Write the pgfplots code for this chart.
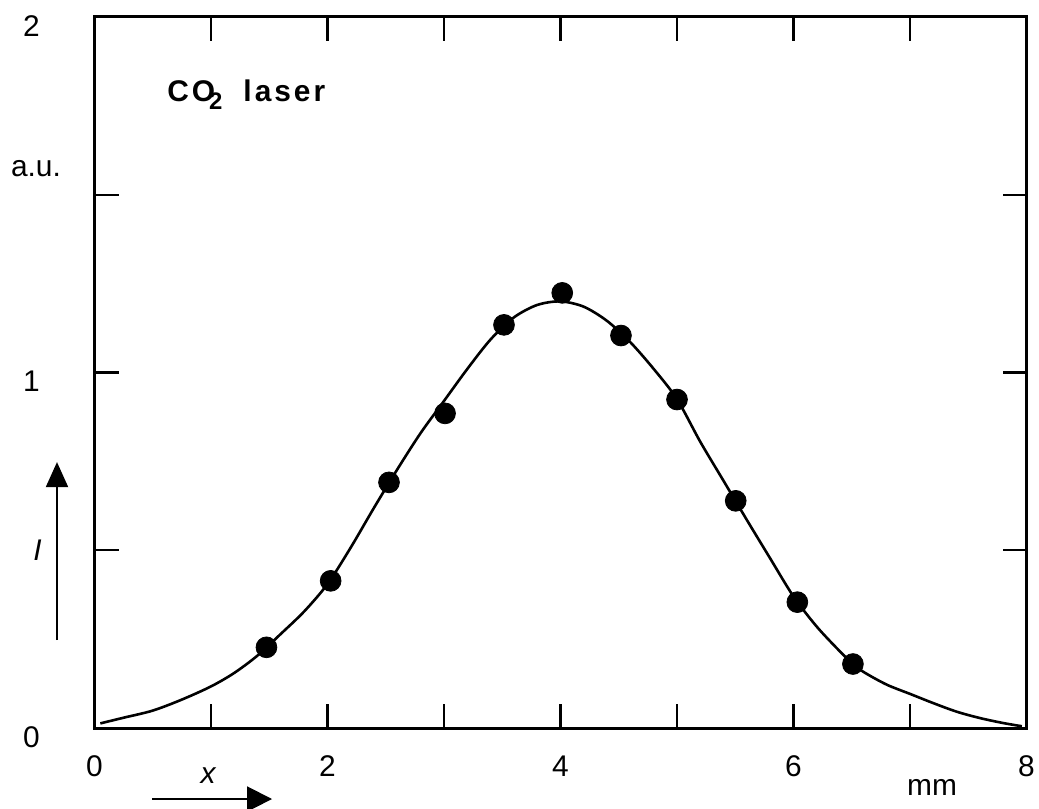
\documentclass[border=0pt]{standalone}
\usepackage{pgfplots}
\pgfplotsset{compat=1.18}
\usepackage{pgfplotstable}
\usepackage{fontspec}
\setmainfont{Liberation Sans}
\newfontfamily\spacedfont[LetterSpace=10]{Liberation Sans}
\usetikzlibrary{arrows.meta}

% fitted intensity profile
\pgfplotstableread{
x     y
0.05  0.013
0.25  0.029
0.50  0.049
0.75  0.080
1.00  0.117
1.20  0.155
1.40  0.204
1.60  0.265
1.80  0.328
2.00  0.405
2.20  0.508
2.40  0.620
2.60  0.728
2.80  0.830
3.00  0.920
3.20  1.010
3.40  1.093
3.60  1.155
3.80  1.190
4.00  1.200
4.20  1.185
4.40  1.145
4.60  1.085
4.80  1.010
5.00  0.925
5.20  0.805
5.40  0.695
5.60  0.585
5.80  0.477
6.00  0.370
6.20  0.285
6.40  0.215
6.50  0.184
6.60  0.158
6.80  0.122
7.00  0.096
7.20  0.070
7.40  0.046
7.60  0.028
7.80  0.014
7.96  0.005
}\fitcurve

% measured intensities
\pgfplotstableread{
x      y
1.476  0.227
2.027  0.414
2.528  0.691
3.009  0.885
3.515  1.134
4.015  1.224
4.519  1.104
5.000  0.924
5.504  0.639
6.033  0.354
6.510  0.180
}\measured

\begin{document}
\begin{tikzpicture}
\begin{axis}[
  scale only axis,
  width=466bp, height=355.5bp,
  xmin=0, xmax=8, ymin=0, ymax=2,
  xtick={0,1,...,8}, xticklabels={0,,2,,4,,6,,8},
  ytick={0,0.5,...,2}, yticklabels={0,,1,,2},
  tick align=inside,
  major tick length=12bp,
  axis line style={line width=1.5bp},
  every tick/.style={black, line width=1.2bp},
  font=\fontsize{15}{18}\selectfont,
  xticklabel style={anchor=center, yshift=-19bp},
  yticklabel style={anchor=center, xshift=-31.5bp, yshift=-4.5bp},
  clip=false,
]
\addplot[black, line width=1.3bp, smooth, no marks] table {\fitcurve};
\addplot[only marks, mark=*, mark size=5.2bp,
  mark options={draw=black, fill=black}] table {\measured};

\node[anchor=base west, inner sep=0pt,
  font=\spacedfont\bfseries\fontsize{15}{18}\selectfont]
  at (axis cs:0.622,1.761)
  {CO\kern-3bp\raisebox{-4bp}{\fontsize{12}{12}\selectfont 2}\hspace{10.5bp}laser};

\node[anchor=base, xshift=-29.25bp] at (axis cs:0,1.55) {a.u.};
\node[anchor=base, xshift=-28.5bp] at (axis cs:0,0.4726) {\itshape I};
\draw[line width=1bp, -{Triangle[length=12.5bp,width=11bp]}]
  ([xshift=-18.75bp]axis cs:0,0.2475) -- ([xshift=-18.75bp]axis cs:0,0.748);

\node[anchor=base, yshift=-27.5bp] at (axis cs:0.974,0) {\itshape x};
\draw[line width=1bp, -{Triangle[length=12.5bp,width=12.5bp]}]
  ([yshift=-35.5bp]axis cs:0.494,0) -- ([yshift=-35.5bp]axis cs:1.524,0);
\node[anchor=base, yshift=-33.5bp] at (axis cs:7.19,0) {mm};
\end{axis}
\pgfresetboundingbox
\path[use as bounding box]
  ([xshift=-47.25bp,yshift=-40bp]current axis.south west)
  rectangle ([xshift=6.25bp,yshift=8.5bp]current axis.north east);
\end{tikzpicture}
\end{document}
